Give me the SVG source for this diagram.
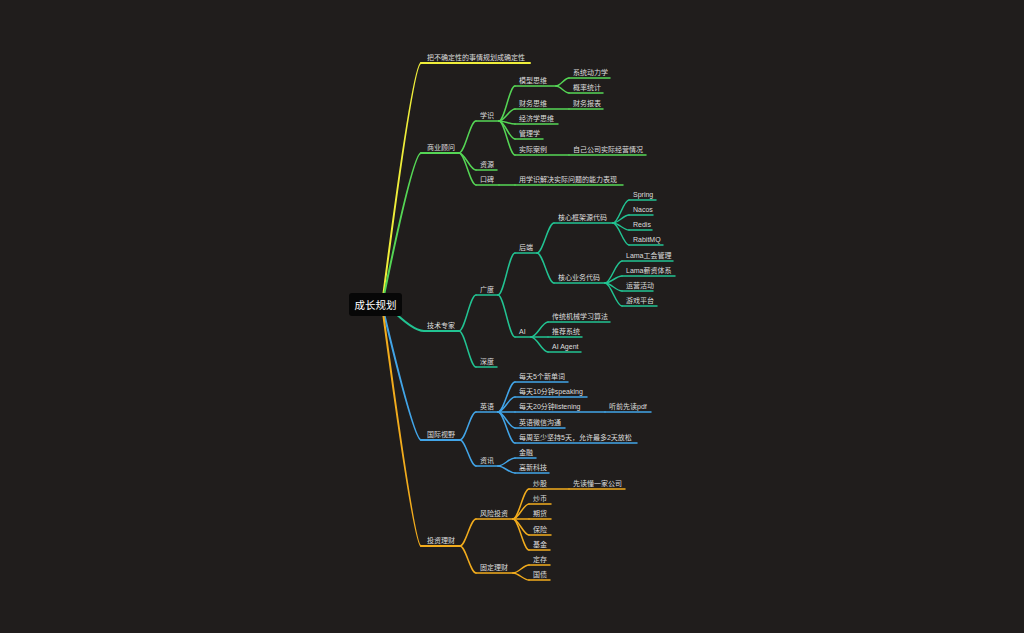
<svg xmlns="http://www.w3.org/2000/svg" width="1024" height="633" viewBox="0 0 1024 633">
<defs>
<style>
.bg{fill:#201d1c}
path{fill:none;stroke-linecap:round}
.y{stroke:#efee3a}
.g{stroke:#55d655}
.c{stroke:#22c392}
.b{stroke:#42a5e8}
.o{stroke:#f2ac1d}
.w2{stroke-width:2}
.w1{stroke-width:1.5}
text{font-family:"Liberation Sans","Noto Sans CJK SC",sans-serif;font-size:7px;fill:#dedede}
.root rect{fill:#070707}
.root text{font-size:10.5px;fill:#ffffff;text-anchor:middle}
</style>
</defs>
<rect class="bg" x="0" y="0" width="1024" height="633"/>

<g id="connectors">
<path class="y w2" d="M382 305 Q413 63 421 63"/>
<path class="g w2" d="M382 305 Q413 153 421 153"/>
<path class="c w2" d="M390 308 Q413 331 424 331"/>
<path class="b w2" d="M382 305 Q414 440 421 440"/>
<path class="o w2" d="M382 305 Q414 546 421 546"/>

<path class="g w1" d="M459 153 C465 153 470 121 476 121"/>
<path class="g w1" d="M459 153 C465 153 470 170 476 170"/>
<path class="g w1" d="M459 153 C465 153 470 185 476 185"/>
<path class="g w1" d="M499 121 C504.6 121 509.4 86 515 86"/>
<path class="g w1" d="M499 121 C504.6 121 509.4 109 515 109"/>
<path class="g w1" d="M499 121 C504.6 121 509.4 124 515 124"/>
<path class="g w1" d="M499 121 C504.6 121 509.4 139 515 139"/>
<path class="g w1" d="M499 121 C504.6 121 509.4 155 515 155"/>
<path class="g w1" d="M499 185 H515"/>
<path class="g w1" d="M556 86 C560.5 86 564.5 78 569 78"/>
<path class="g w1" d="M556 86 C560.5 86 564.5 93 569 93"/>

<path class="c w1" d="M459 331 C465 331 470 295 476 295"/>
<path class="c w1" d="M459 331 C465 331 470 367 476 367"/>
<path class="c w1" d="M498 295 C504 295 509 253 515 253"/>
<path class="c w1" d="M498 295 C504 295 509 337 515 337"/>
<path class="c w1" d="M537 253 C543 253 548 223 554 223"/>
<path class="c w1" d="M537 253 C543 253 548 283 554 283"/>
<path class="c w1" d="M613 223 C618.6 223 623.4 200 629 200"/>
<path class="c w1" d="M613 223 C618.6 223 623.4 215 629 215"/>
<path class="c w1" d="M613 223 C618.6 223 623.4 230 629 230"/>
<path class="c w1" d="M613 223 C618.6 223 623.4 245 629 245"/>
<path class="c w1" d="M605 283 C611 283 616 261 622 261"/>
<path class="c w1" d="M605 283 C611 283 616 276 622 276"/>
<path class="c w1" d="M605 283 C611 283 616 291 622 291"/>
<path class="c w1" d="M605 283 C611 283 616 306 622 306"/>
<path class="c w1" d="M531 337 C537 337 542 322 548 322"/>
<path class="c w1" d="M531 337 H548"/>
<path class="c w1" d="M531 337 C537 337 542 352 548 352"/>

<path class="b w1" d="M460 440 C465.6 440 470.4 412 476 412"/>
<path class="b w1" d="M460 440 C465.6 440 470.4 466 476 466"/>
<path class="b w1" d="M498 412 C504 412 509 382 515 382"/>
<path class="b w1" d="M498 412 C504 412 509 397 515 397"/>
<path class="b w1" d="M498 412 H515"/>
<path class="b w1" d="M498 412 C504 412 509 428 515 428"/>
<path class="b w1" d="M498 412 C504 412 509 443 515 443"/>
<path class="b w1" d="M498 466 C504 466 509 458 515 458"/>
<path class="b w1" d="M498 466 C504 466 509 473 515 473"/>

<path class="o w1" d="M460 546 C465.6 546 470.4 519 476 519"/>
<path class="o w1" d="M460 546 C465.6 546 470.4 573 476 573"/>
<path class="o w1" d="M513 519 C518.6 519 523.4 489 529 489"/>
<path class="o w1" d="M513 519 C518.6 519 523.4 504 529 504"/>
<path class="o w1" d="M513 519 H529"/>
<path class="o w1" d="M513 519 C518.6 519 523.4 535 529 535"/>
<path class="o w1" d="M513 519 C518.6 519 523.4 550 529 550"/>
<path class="o w1" d="M513 573 C518.6 573 523.4 565 529 565"/>
<path class="o w1" d="M513 573 C518.6 573 523.4 580 529 580"/>
</g>

<g id="n-root" class="root"><rect x="349" y="293" width="53" height="23" rx="3"/><text x="375.5" y="308.5">成长规划</text></g>

<g id="n-certain"><path class="y w2" d="M421 63 H530"/><text x="427" y="60">把不确定性的事情规划成确定性</text></g>

<g id="n-biz"><path class="g w2" d="M421 153 H459"/><text x="427" y="150">商业顾问</text></g>
<g id="n-xueshi"><path class="g w1" d="M476 121 H499"/><text x="480" y="118">学识</text></g>
<g id="n-ziyuan"><path class="g w1" d="M476 170 H497"/><text x="480" y="167">资源</text></g>
<g id="n-koubei"><path class="g w1" d="M476 185 H499"/><text x="480" y="182">口碑</text></g>
<g id="n-moxing"><path class="g w1" d="M515 86 H556"/><text x="519" y="83">模型思维</text></g>
<g id="n-caiwu"><path class="g w1" d="M515 109 H569"/><text x="519" y="106">财务思维</text></g>
<g id="n-jingji"><path class="g w1" d="M515 124 H558"/><text x="519" y="121">经济学思维</text></g>
<g id="n-guanli"><path class="g w1" d="M515 139 H543"/><text x="519" y="136">管理学</text></g>
<g id="n-anli"><path class="g w1" d="M515 155 H569"/><text x="519" y="152">实际案例</text></g>
<g id="n-nengli"><path class="g w1" d="M515 185 H623"/><text x="519" y="182">用学识解决实际问题的能力表现</text></g>
<g id="n-xitong"><path class="g w1" d="M569 78 H610"/><text x="573" y="75">系统动力学</text></g>
<g id="n-gailv"><path class="g w1" d="M569 93 H603"/><text x="573" y="90">概率统计</text></g>
<g id="n-baobiao"><path class="g w1" d="M569 109 H603"/><text x="573" y="106">财务报表</text></g>
<g id="n-ziji"><path class="g w1" d="M569 155 H646"/><text x="573" y="152">自己公司实际经营情况</text></g>

<g id="n-tech"><path class="c w2" d="M424 331 H459"/><text x="427" y="328">技术专家</text></g>
<g id="n-guangdu"><path class="c w1" d="M476 295 H498"/><text x="480" y="292">广度</text></g>
<g id="n-shendu"><path class="c w1" d="M476 367 H497"/><text x="480" y="364">深度</text></g>
<g id="n-houduan"><path class="c w1" d="M515 253 H537"/><text x="519" y="250">后端</text></g>
<g id="n-ai"><path class="c w1" d="M515 337 H531"/><text x="519" y="334">AI</text></g>
<g id="n-kuangjia"><path class="c w1" d="M554 223 H613"/><text x="558" y="220">核心框架源代码</text></g>
<g id="n-yewu"><path class="c w1" d="M554 283 H605"/><text x="558" y="280">核心业务代码</text></g>
<g id="n-spring"><path class="c w1" d="M629 200 H656"/><text x="633" y="197">Spring</text></g>
<g id="n-nacos"><path class="c w1" d="M629 215 H653"/><text x="633" y="212">Nacos</text></g>
<g id="n-redis"><path class="c w1" d="M629 230 H652"/><text x="633" y="227">Redis</text></g>
<g id="n-rabbit"><path class="c w1" d="M629 245 H663"/><text x="633" y="242">RabitMQ</text></g>
<g id="n-lama1"><path class="c w1" d="M622 261 H673"/><text x="626" y="258">Lama工会管理</text></g>
<g id="n-lama2"><path class="c w1" d="M622 276 H675"/><text x="626" y="273">Lama薪资体系</text></g>
<g id="n-yunying"><path class="c w1" d="M622 291 H653"/><text x="626" y="288">运营活动</text></g>
<g id="n-youxi"><path class="c w1" d="M622 306 H657"/><text x="626" y="303">游戏平台</text></g>
<g id="n-ml"><path class="c w1" d="M548 322 H610"/><text x="552" y="319">传统机械学习算法</text></g>
<g id="n-tuijian"><path class="c w1" d="M548 337 H582"/><text x="552" y="334">推荐系统</text></g>
<g id="n-agent"><path class="c w1" d="M548 352 H581"/><text x="552" y="349">AI Agent</text></g>

<g id="n-global"><path class="b w2" d="M421 440 H460"/><text x="427" y="437">国际视野</text></g>
<g id="n-yingyu"><path class="b w1" d="M476 412 H498"/><text x="480" y="409">英语</text></g>
<g id="n-zixun"><path class="b w1" d="M476 466 H498"/><text x="480" y="463">资讯</text></g>
<g id="n-e1"><path class="b w1" d="M515 382 H568"/><text x="519" y="379">每天5个新单词</text></g>
<g id="n-e2"><path class="b w1" d="M515 397 H587"/><text x="519" y="394">每天10分钟speaking</text></g>
<g id="n-e3"><path class="b w1" d="M515 412 H605"/><text x="519" y="409">每天20分钟listening</text></g>
<g id="n-e3a"><path class="b w1" d="M605 412 H651"/><text x="609" y="409">听前先读pdf</text></g>
<g id="n-e4"><path class="b w1" d="M515 428 H565"/><text x="519" y="425">英语微信沟通</text></g>
<g id="n-e5"><path class="b w1" d="M515 443 H637"/><text x="519" y="440">每周至少坚持5天，允许最多2天放松</text></g>
<g id="n-jinrong"><path class="b w1" d="M515 458 H536"/><text x="519" y="455">金融</text></g>
<g id="n-gaoxin"><path class="b w1" d="M515 473 H549"/><text x="519" y="470">高新科技</text></g>

<g id="n-invest"><path class="o w2" d="M421 546 H460"/><text x="427" y="543">投资理财</text></g>
<g id="n-fengxian"><path class="o w1" d="M476 519 H513"/><text x="480" y="516">风险投资</text></g>
<g id="n-guding"><path class="o w1" d="M476 573 H513"/><text x="480" y="570">固定理财</text></g>
<g id="n-chaogu"><path class="o w1" d="M529 489 H569"/><text x="533" y="486">炒股</text></g>
<g id="n-xiandu"><path class="o w1" d="M569 489 H625"/><text x="573" y="486">先读懂一家公司</text></g>
<g id="n-chaobi"><path class="o w1" d="M529 504 H551"/><text x="533" y="501">炒币</text></g>
<g id="n-qihuo"><path class="o w1" d="M529 519 H551"/><text x="533" y="516">期货</text></g>
<g id="n-baoxian"><path class="o w1" d="M529 535 H551"/><text x="533" y="532">保险</text></g>
<g id="n-jijin"><path class="o w1" d="M529 550 H550"/><text x="533" y="547">基金</text></g>
<g id="n-dingcun"><path class="o w1" d="M529 565 H550"/><text x="533" y="562">定存</text></g>
<g id="n-guozhai"><path class="o w1" d="M529 580 H550"/><text x="533" y="577">国债</text></g>
</svg>
